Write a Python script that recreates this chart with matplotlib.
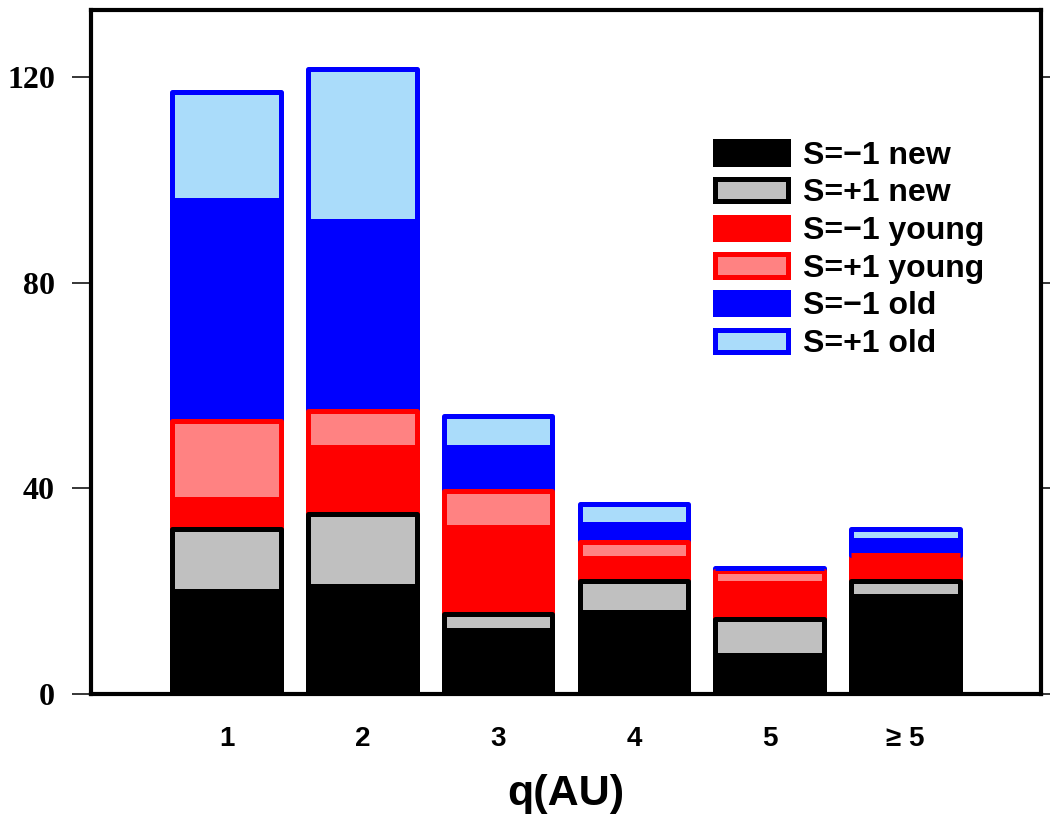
import matplotlib
matplotlib.use("Agg")
import matplotlib.pyplot as plt
from matplotlib.patches import Patch

# q(AU) bins
categories = ["1", "2", "3", "4", "5", "\u2265 5"]

# Counts per bin, stacked from the bottom
s_minus_new = [20, 21, 12.5, 16, 7.5, 19]
s_plus_new = [12, 14, 3, 6, 7, 3]
s_minus_young = [6, 13, 17, 4.5, 7, 5]
s_plus_young = [15, 7, 7, 3, 2.5, 0]
s_minus_old = [43, 37, 8.5, 3.5, 0.5, 3]
s_plus_old = [21, 29.5, 6, 4, 0, 2]

labels = ["S=\u22121 new", "S=+1 new", "S=\u22121 young",
          "S=+1 young", "S=\u22121 old", "S=+1 old"]

series = [s_minus_new, s_plus_new, s_minus_young, s_plus_young, s_minus_old, s_plus_old]
faces = ["#000000", "#c0c0c0", "#ff0000", "#ff8282", "#0000ff", "#aadcfa"]
edges = ["#000000", "#000000", "#ff0000", "#ff0000", "#0000ff", "#0000ff"]

fig = plt.figure(figsize=(10.5, 8.23), dpi=100)
ax = fig.add_axes([0.0867, 0.1567, 0.9048, 0.8311])

x = list(range(1, len(categories) + 1))
bottom = [0] * len(x)
lw = 3.6
for i, (vals, fc, ec) in enumerate(zip(series, faces, edges)):
    # S+1 segments on top so their dark outline shows
    z = 3 if i % 2 else 2
    ax.bar(x, vals, width=0.80, bottom=bottom, color=fc, edgecolor=ec,
           linewidth=lw, joinstyle="round", zorder=z)
    bottom = [b + v for b, v in zip(bottom, vals)]

ax.set_xlim(0, 7)
ax.set_ylim(0, 133)

for s in ax.spines.values():
    s.set_linewidth(3)

ax.set_yticks([0, 40, 80, 120])
ax.tick_params(axis="y", which="both", direction="out", length=14, width=1.1,
               pad=12, right=True, labelsize=23)
for t in ax.get_yticklabels():
    t.set_fontfamily(["Liberation Serif", "DejaVu Serif"])
    t.set_fontweight("bold")

ax.set_xticks(x)
ax.set_xticklabels(categories)
ax.tick_params(axis="x", length=0, pad=23, labelsize=20)
for t in ax.get_xticklabels():
    t.set_fontfamily(["Liberation Sans Narrow", "Liberation Sans", "DejaVu Sans"])
    t.set_fontweight("bold")

ax.set_xlabel("q(AU)", fontsize=31, fontweight="bold", labelpad=16,
              family=["Liberation Sans Narrow", "Liberation Sans", "DejaVu Sans"])

handles = [Patch(facecolor=fc, edgecolor=ec, linewidth=lw) for fc, ec in zip(faces, edges)]
leg = ax.legend(handles, labels, loc="upper left", bbox_to_anchor=(0.6814, 0.829),
                bbox_transform=fig.transFigure, frameon=False, borderpad=0,
                borderaxespad=0, handlelength=2.26, handleheight=0.69,
                handletextpad=0.47, labelspacing=0.24,
                prop={"family": ["Liberation Sans", "DejaVu Sans"], "weight": "bold", "size": 23})

fig.savefig("out.png", dpi=100)
